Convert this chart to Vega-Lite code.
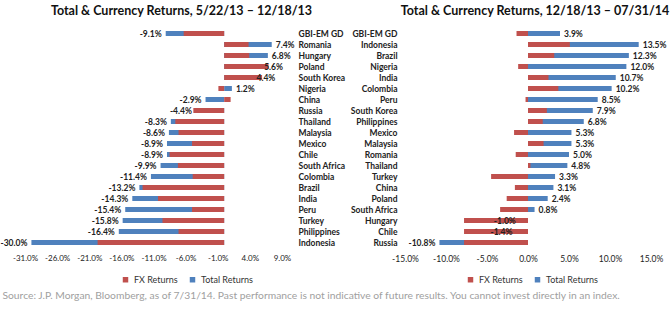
{
  "$schema": "https://vega.github.io/schema/vega-lite/v6.json",
  "padding": {"left": 0, "top": 4, "right": 4, "bottom": 4},
  "bounds": "flush",
  "spacing": 123,
  "background": "white",
  "config": {
    "view": {"stroke": null},
    "font": "Lato",
    "locale": {"number": {"decimal": ".", "thousands": ",", "grouping": [3], "currency": ["$", ""], "minus": "-"}},
    "axis": {"grid": false, "domain": false, "ticks": false, "labelColor": "#222", "labelFont": "Lato", "labelOverlap": false, "labelFlush": false},
    "legend": {"labelFont": "Lato", "labelFontSize": 9, "labelColor": "#333", "symbolType": "square", "symbolSize": 30, "symbolStrokeWidth": 0, "columnPadding": 10}
  },
  "title": {
    "text": "Source: J.P. Morgan, Bloomberg, as of 7/31/14. Past performance is not indicative of future results. You cannot invest directly in an index.",
    "orient": "bottom", "anchor": "start", "font": "Lato", "fontSize": 10.3, "fontWeight": "normal", "color": "#a0a0a0", "offset": 6, "dx": 2
  },
  "datasets": {
    "p1": [
      {"country": "GBI-EM GD", "total": -0.091, "fx": -0.063},
      {"country": "Romania", "total": 0.074, "fx": 0.038},
      {"country": "Hungary", "total": 0.068, "fx": 0.039},
      {"country": "Poland", "total": 0.056, "fx": 0.069},
      {"country": "South Korea", "total": 0.044, "fx": 0.059},
      {"country": "Nigeria", "total": 0.012, "fx": -0.009},
      {"country": "China", "total": -0.029, "fx": 0.010},
      {"country": "Russia", "total": -0.044, "fx": -0.048},
      {"country": "Thailand", "total": -0.083, "fx": -0.076},
      {"country": "Malaysia", "total": -0.086, "fx": -0.071},
      {"country": "Mexico", "total": -0.089, "fx": -0.050},
      {"country": "Chile", "total": -0.089, "fx": -0.085},
      {"country": "South Africa", "total": -0.099, "fx": -0.072},
      {"country": "Colombia", "total": -0.114, "fx": -0.049},
      {"country": "Brazil", "total": -0.132, "fx": -0.127},
      {"country": "India", "total": -0.143, "fx": -0.103},
      {"country": "Peru", "total": -0.154, "fx": -0.050},
      {"country": "Turkey", "total": -0.158, "fx": -0.096},
      {"country": "Philippines", "total": -0.164, "fx": -0.071},
      {"country": "Indonesia", "total": -0.300, "fx": -0.197}
    ],
    "p2": [
      {"country": "GBI-EM GD", "total": 0.039, "fx": -0.014},
      {"country": "Indonesia", "total": 0.135, "fx": 0.051},
      {"country": "Brazil", "total": 0.123, "fx": 0.032},
      {"country": "Nigeria", "total": 0.120, "fx": -0.012},
      {"country": "India", "total": 0.107, "fx": 0.025},
      {"country": "Colombia", "total": 0.102, "fx": 0.037},
      {"country": "Peru", "total": 0.085, "fx": -0.003},
      {"country": "South Korea", "total": 0.079, "fx": 0.023},
      {"country": "Philippines", "total": 0.068, "fx": 0.018},
      {"country": "Mexico", "total": 0.053, "fx": -0.017},
      {"country": "Malaysia", "total": 0.053, "fx": 0.019},
      {"country": "Romania", "total": 0.050, "fx": -0.015},
      {"country": "Thailand", "total": 0.048, "fx": 0.003},
      {"country": "Turkey", "total": 0.033, "fx": -0.045},
      {"country": "China", "total": 0.031, "fx": -0.016},
      {"country": "Poland", "total": 0.024, "fx": -0.026},
      {"country": "South Africa", "total": 0.008, "fx": -0.034},
      {"country": "Hungary", "total": -0.010, "fx": -0.078},
      {"country": "Chile", "total": -0.014, "fx": -0.078},
      {"country": "Russia", "total": -0.108, "fx": -0.078}
    ]
  },
  "resolve": {"scale": {"x": "independent", "y": "independent", "color": "independent"}, "legend": {"color": "independent"}},
  "hconcat": [
    {
      "width": 257,
      "height": 220,
      "title": {"text": "Total & Currency Returns, 5/22/13 – 12/18/13", "anchor": "middle", "dx": 28, "font": "Lato", "fontSize": 12.5, "fontWeight": "bold", "color": "#111", "offset": 11},
      "data": {"name": "p1"},
      "encoding": {
        "y": {"field": "country", "type": "nominal", "sort": null, "title": null,
              "axis": {"orient": "right", "labelAlign": "left", "labelPadding": 16, "labelFontSize": 8.5, "labelFontWeight": "bold", "labelLimit": 200}}
      },
      "layer": [
        {
          "mark": {"type": "bar", "height": 5},
          "encoding": {
            "x": {"field": "total", "type": "quantitative", "title": null,
                  "scale": {"domain": [-0.31, 0.09], "nice": false, "zero": false},
                  "axis": {"values": [-0.31, -0.26, -0.21, -0.16, -0.11, -0.06, -0.01, 0.04, 0.09], "format": ".1%", "labelFontSize": 8, "labelPadding": 6, "labelOverlap": false, "labelSeparation": 0}},
            "color": {"datum": "Total Returns", "type": "nominal", "title": null,
                      "scale": {"domain": ["FX Returns", "Total Returns"], "range": ["#C0504D", "#4F81BD"]},
                      "legend": {"orient": "none", "direction": "horizontal", "legendX": 96, "legendY": 247}}
          }
        },
        {
          "mark": {"type": "bar", "height": 5},
          "encoding": {
            "x": {"field": "fx", "type": "quantitative", "title": null,
                  "axis": {"values": [-0.31, -0.26, -0.21, -0.16, -0.11, -0.06, -0.01, 0.04, 0.09], "format": ".1%", "labelFontSize": 8, "labelPadding": 6, "labelOverlap": false, "labelSeparation": 0}},
            "color": {"datum": "FX Returns", "type": "nominal"}
          }
        },
        {
          "transform": [{"filter": "datum.total >= 0"}],
          "mark": {"type": "text", "align": "left", "dx": 4, "fontSize": 8.5, "fontWeight": "bold", "color": "#222", "baseline": "middle"},
          "encoding": {"x": {"field": "total", "type": "quantitative", "title": null,
                  "axis": {"values": [-0.31, -0.26, -0.21, -0.16, -0.11, -0.06, -0.01, 0.04, 0.09], "format": ".1%", "labelFontSize": 8, "labelPadding": 6, "labelOverlap": false, "labelSeparation": 0}},
                       "text": {"field": "total", "type": "quantitative", "format": ".1%"}}
        },
        {
          "transform": [{"filter": "datum.total < 0"}],
          "mark": {"type": "text", "align": "right", "dx": -4, "fontSize": 8.5, "fontWeight": "bold", "color": "#222", "baseline": "middle"},
          "encoding": {"x": {"field": "total", "type": "quantitative", "title": null,
                  "axis": {"values": [-0.31, -0.26, -0.21, -0.16, -0.11, -0.06, -0.01, 0.04, 0.09], "format": ".1%", "labelFontSize": 8, "labelPadding": 6, "labelOverlap": false, "labelSeparation": 0}},
                       "text": {"field": "total", "type": "quantitative", "format": ".1%"}}
        },
        {
          "mark": {"type": "rule", "color": "#a6a6a6", "strokeWidth": 1},
          "encoding": {"x": {"datum": 0, "type": "quantitative", "title": null,
                  "axis": {"values": [-0.31, -0.26, -0.21, -0.16, -0.11, -0.06, -0.01, 0.04, 0.09], "format": ".1%", "labelFontSize": 8, "labelPadding": 6, "labelOverlap": false, "labelSeparation": 0}}}
        }
      ]
    },
    {
      "width": 246,
      "height": 220,
      "title": {"text": "Total & Currency Returns, 12/18/13 – 07/31/14", "anchor": "middle", "dx": 7, "font": "Lato", "fontSize": 12.5, "fontWeight": "bold", "color": "#111", "offset": 11},
      "data": {"name": "p2"},
      "encoding": {
        "y": {"field": "country", "type": "nominal", "sort": null, "title": null,
              "axis": {"orient": "left", "labelAlign": "right", "labelPadding": 8, "labelFontSize": 8.5, "labelFontWeight": "bold", "labelLimit": 200}}
      },
      "layer": [
        {
          "mark": {"type": "bar", "height": 5},
          "encoding": {
            "x": {"field": "total", "type": "quantitative", "title": null,
                  "scale": {"domain": [-0.15, 0.15], "nice": false},
                  "axis": {"values": [-0.15, -0.10, -0.05, 0, 0.05, 0.10, 0.15], "format": ".1%", "labelFontSize": 8.5, "labelPadding": 6, "labelOverlap": false}},
            "color": {"datum": "Total Returns", "type": "nominal", "title": null,
                      "scale": {"domain": ["FX Returns", "Total Returns"], "range": ["#C0504D", "#4F81BD"]},
                      "legend": {"orient": "none", "direction": "horizontal", "legendX": 61, "legendY": 247}}
          }
        },
        {
          "mark": {"type": "bar", "height": 5},
          "encoding": {
            "x": {"field": "fx", "type": "quantitative"},
            "color": {"datum": "FX Returns", "type": "nominal"}
          }
        },
        {
          "transform": [{"filter": "datum.total >= 0"}],
          "mark": {"type": "text", "align": "left", "dx": 4, "fontSize": 8.5, "fontWeight": "bold", "color": "#222", "baseline": "middle"},
          "encoding": {"x": {"field": "total", "type": "quantitative"}, "text": {"field": "total", "type": "quantitative", "format": ".1%"}}
        },
        {
          "transform": [{"filter": "datum.total < 0"}],
          "mark": {"type": "text", "align": "right", "dx": -4, "fontSize": 8.5, "fontWeight": "bold", "color": "#222", "baseline": "middle"},
          "encoding": {"x": {"field": "total", "type": "quantitative"}, "text": {"field": "total", "type": "quantitative", "format": ".1%"}}
        },
        {
          "mark": {"type": "rule", "color": "#a6a6a6", "strokeWidth": 1},
          "encoding": {"x": {"datum": 0, "type": "quantitative"}}
        }
      ]
    }
  ]
}
